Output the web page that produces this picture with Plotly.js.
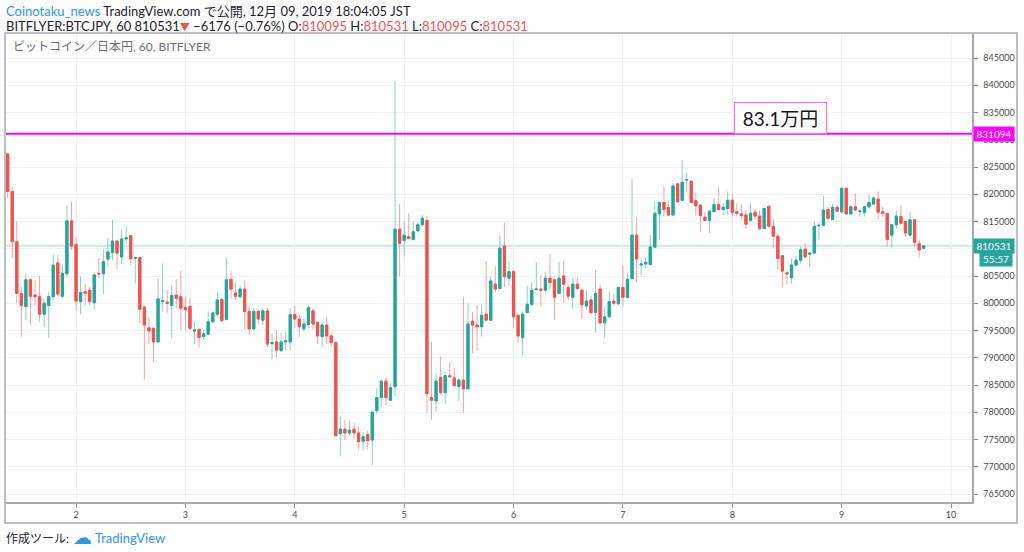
<!DOCTYPE html>
<html><head><meta charset="utf-8">
<script src="https://cdn.plot.ly/plotly-3.0.1.min.js"></script>
<style>html,body{margin:0;padding:0;background:#fff;}#chart{width:1024px;height:552px;}</style>
</head><body><div id="chart"></div>
<script>
// Hourly BTC/JPY candles, bitFlyer, 60 min, first bar 2019-12-01 09:00 JST
const firstBar = Date.UTC(2019, 11, 1, 9);
const open = [827400,820500,811300,801800,799400,804300,801500,801200,798000,799600,801200,807400,801300,805400,815100,810800,800300,802100,802400,800100,
805500,805400,808100,809300,811400,808500,811800,812400,808200,808400,799300,795500,795400,792900,800300,800200,799600,801500,801200,799200,
799400,794900,795200,793900,794300,796600,798000,800700,797000,804400,801900,801200,802600,798500,795300,798500,796900,798600,792600,792900,
791300,792900,792900,797900,797100,795300,796100,798600,796500,793900,796000,794000,792800,776100,776900,776200,776900,776200,774700,775900,
774900,780300,782700,785700,782200,784700,813600,811500,812200,811700,813300,814400,815200,782700,782100,786400,783600,786700,786300,784700,
785900,784300,796700,796000,795700,798000,796900,803500,802700,810500,804600,805800,797800,793700,798300,799800,802500,802600,802400,804600,
804300,801800,805000,802900,801100,803500,802400,799500,800600,798300,802600,796400,797500,800400,799900,802900,801100,804500,812500,807000,
807200,807100,810300,816400,818500,817600,816200,821900,818900,822600,822400,818800,818000,815800,815200,816800,818100,817200,817400,818900,
816800,816400,816200,815200,816700,816000,813700,817800,814100,812300,808700,805600,804700,807000,807900,809900,809000,809200,814200,814300,
817200,815400,817600,816800,821100,816400,817700,816800,816700,817700,818200,819100,816800,816500,812500,814400,815900,815000,812500,815300,
810900,810095];
const high = [827500,821400,815000,803000,805500,804600,804300,805000,800700,802100,809000,808900,807000,818000,818600,812100,804900,803600,803000,805600,
808400,809900,811900,815300,811700,813600,814100,812500,808500,808500,799400,797400,795600,804600,807300,802400,803300,804400,806000,801200,
801000,796600,795400,795100,798500,798500,802000,800900,808400,805900,803800,803200,804200,799500,799100,798800,799100,799200,794500,795100,
794500,794800,799100,799500,797900,797200,799500,799100,796600,796300,797400,794800,792900,779200,778600,778400,778000,777400,776400,776600,
780300,784400,785900,786500,785300,840800,818200,815000,816500,815000,814800,816200,816000,792900,787100,790200,787400,789200,788100,786200,
801200,800000,798400,799700,799700,807700,804900,806800,812500,814800,807600,806100,797800,798500,803200,803800,807600,805200,805800,809000,
804600,807600,807600,803400,804600,804600,802700,802400,801300,806100,803400,799400,802100,801800,803000,806900,805500,822900,815800,808200,
808400,812500,818600,818500,821500,818900,822000,822000,826300,824000,822400,820200,818000,816800,817100,819400,821400,818300,820500,820000,
818300,818200,817100,818300,817300,817100,817400,817800,815500,812800,808700,805800,808200,808700,810400,811000,809300,815000,814800,819700,
817800,818200,818000,821100,821100,818000,820200,817400,817800,819900,819600,820500,817700,816500,814500,817000,818000,815000,816800,815300,
811700,810531];
const low = [819300,808200,800000,793900,796900,796000,799500,796600,795600,793700,800600,801200,800900,804900,809800,798600,798000,799500,799700,798900,
804600,801700,806700,807900,806300,807200,810900,807000,803600,796300,786000,792600,789300,792800,798500,798200,793600,799100,795100,795100,
795000,792500,791900,793300,794200,796400,797500,796600,797000,800800,800600,800900,795300,794200,795000,796200,796000,792000,789700,790100,
791100,791400,791400,795400,793800,794800,795400,795200,792500,791900,792500,792000,775500,771900,774900,775800,775200,773200,773000,773200,
770300,779800,781000,781300,782100,782900,804900,808600,811900,811600,813100,814200,779900,778600,780100,783200,781600,786400,784700,782100,
779900,784100,790800,791300,793900,796800,796800,802100,802600,803000,803200,795400,792800,790500,798100,799500,802400,799500,802100,802400,
797000,801700,800100,800600,799000,802400,797200,798800,797900,794600,796200,793600,797500,799500,799700,799400,800900,804500,803900,805200,
806400,807000,810100,811600,815900,816000,816100,818600,818900,820300,818500,816100,813100,815200,812900,816800,817000,816200,816200,815900,
816000,815500,813700,815000,815300,813300,813700,813900,810100,806100,803000,803400,803600,807000,807300,808500,806700,809200,811700,814100,
815200,815200,816800,816400,816200,816100,817000,815900,815900,817400,818000,815400,815900,810400,810300,813700,814400,812300,812300,810400,
808400,810095];
const close = [820500,811300,801800,799600,804300,801300,801200,798000,800000,801200,807000,801700,805500,815100,810500,800400,802000,801800,800300,805200,
805400,807600,809400,811400,809200,811800,812000,808200,808400,798900,796000,794900,792900,800800,800500,800000,801400,800900,799100,798800,
795400,795100,793700,794400,796600,798200,800600,796800,804300,802600,801300,802600,798500,795300,798500,797100,798600,792500,792800,791400,
792900,793100,797900,797100,795700,796200,799200,796200,794000,796000,794000,792800,775700,776900,776200,776700,776200,774600,775500,774800,
780000,782700,785700,782700,784500,813600,811000,812500,811900,813100,814400,815600,783400,782200,785700,783600,786700,786500,784900,785900,
784300,796200,796000,795700,797800,796900,804100,802600,810100,804900,805800,797500,794000,798000,799800,802400,802600,802400,804600,803800,
801100,804600,803500,801300,803500,802700,799700,800400,798300,801800,796400,797500,800300,800000,802900,801100,804400,812500,808100,807200,
807500,810300,816500,818500,817200,816200,821500,818600,822200,822700,818500,817900,816100,815200,816900,818100,817200,817600,818900,816700,
816500,816100,814500,816500,816000,813700,817400,814100,812300,808200,805900,805400,807000,807900,809800,808500,809200,814100,814300,817100,
815600,817600,816900,821100,816400,817700,817100,816900,817700,818500,819300,816700,816500,811700,814400,816000,814700,812900,815300,811200,
809800,810531];
const dayTicks = ['2019-12-02','2019-12-03','2019-12-04','2019-12-05','2019-12-06','2019-12-07','2019-12-08','2019-12-09','2019-12-10'];
const dayLabels = ['2','3','4','5','6','7','8','9','10'];
const priceTicks = [765000,770000,775000,780000,785000,790000,795000,800000,805000,810000,815000,820000,825000,830000,835000,840000,845000];
// 810000 sits behind the last-price tag in the reference, so its label is not shown
const priceLabels = ['765000','770000','775000','780000','785000','790000','795000','800000','805000','','815000','820000','825000','830000','835000','840000','845000'];
const markedLevel = 831094;
const markedLabel = '83.1万円';
const lastPrice = 810531;
const countdown = '55:57';

const times = open.map((_, i) => new Date(firstBar + i * 3600000).toISOString().slice(0, 16).replace('T', ' '));
const bodyHigh = open.map((o, i) => Math.max(o, close[i]));
const bodyLow = open.map((o, i) => Math.min(o, close[i]));

const UP = '#26a69a', DOWN = '#ef5350';
const W = 1024, H = 552, L = 6, R = 972, T = 33, B = 502;
const px = x => (x - L) / (R - L);
const py = y => (B - y) / (B - T);
const FONT = "Lato, 'Noto Sans CJK JP', sans-serif";
const FRAME = '#a7aab2';

const wicks = {
  type: 'candlestick', x: times, open: open, high: high, low: low, close: close,
  increasing: {line: {color: 'rgba(38,166,154,0.55)', width: 1}, fillcolor: 'rgba(38,166,154,0.55)'},
  decreasing: {line: {color: 'rgba(239,83,80,0.55)', width: 1}, fillcolor: 'rgba(239,83,80,0.55)'},
  whiskerwidth: 0, hoverinfo: 'skip', showlegend: false
};
const bodies = {
  type: 'candlestick', x: times, open: open, high: bodyHigh, low: bodyLow, close: close,
  increasing: {line: {color: UP, width: 1}, fillcolor: UP},
  decreasing: {line: {color: DOWN, width: 1}, fillcolor: DOWN},
  whiskerwidth: 0, hoverinfo: 'skip', showlegend: false
};

const layout = {
  width: W, height: H,
  margin: {l: L, r: W - R, t: T, b: H - B, pad: 0},
  paper_bgcolor: '#ffffff', plot_bgcolor: '#ffffff',
  showlegend: false, dragmode: false,
  font: {family: FONT, size: 9, color: '#4a4a4a'},
  xaxis: {
    type: 'date', range: ['2019-12-01 08:38', '2019-12-10 04:36'],
    tickmode: 'array', tickvals: dayTicks, ticktext: dayLabels,
    showgrid: true, gridcolor: '#eef1f7', gridwidth: 1, zeroline: false,
    ticks: 'outside', ticklen: 4, tickcolor: '#8a8d96', tickwidth: 1,
    showline: true, linecolor: FRAME, linewidth: 1.5,
    tickfont: {family: FONT, size: 9, color: '#4a4a4a'},
    rangeslider: {visible: false}, fixedrange: true
  },
  yaxis: {
    side: 'right', range: [763532, 849587],
    tickmode: 'array', tickvals: priceTicks, ticktext: priceLabels,
    showgrid: true, gridcolor: '#eef1f7', gridwidth: 1, zeroline: false,
    ticks: 'outside', ticklen: 4, tickcolor: '#8a8d96', tickwidth: 1,
    showline: true, linecolor: FRAME, linewidth: 1.5,
    tickfont: {family: FONT, size: 9, color: '#4a4a4a'},
    ticklabelstandoff: 4, fixedrange: true
  },
  shapes: [
    {type: 'line', xref: 'paper', yref: 'y', x0: 0, x1: 1, y0: lastPrice, y1: lastPrice, line: {color: '#cfe8e5', width: 2}, layer: 'below'},
    {type: 'line', xref: 'paper', yref: 'y', x0: 0, x1: 1, y0: markedLevel, y1: markedLevel, line: {color: '#ff00ff', width: 2}},
    {type: 'rect', xref: 'paper', yref: 'paper', x0: px(5), x1: px(1017), y0: py(523), y1: py(33), line: {color: FRAME, width: 1.5}, fillcolor: 'rgba(0,0,0,0)'}
  ],
  annotations: [
    {xref: 'paper', yref: 'paper', x: px(4), y: py(11), xanchor: 'left', yanchor: 'middle', showarrow: false,
     text: '<span style="color:#2e96e6">Coinotaku_news</span> TradingView.com で公開, 12月 09, 2019 18:04:05 JST',
     font: {family: FONT, size: 13, color: '#1e222d'}},
    {xref: 'paper', yref: 'paper', x: px(4), y: py(25.5), xanchor: 'left', yanchor: 'middle', showarrow: false,
     text: 'BITFLYER:BTCJPY, 60 810531<span style="color:#ef5350;font-size:10px">▼</span> −6176 (−0.76%) O:<span style="color:#ef5350">810095</span> H:<span style="color:#ef5350">810531</span> L:<span style="color:#ef5350">810095</span> C:<span style="color:#ef5350">810531</span>',
     font: {family: FONT, size: 13, color: '#1e222d'}},
    {xref: 'paper', yref: 'paper', x: px(11), y: py(47), xanchor: 'left', yanchor: 'middle', showarrow: false,
     text: 'ビットコイン／日本円, 60, BITFLYER', font: {family: FONT, size: 12, color: '#6a6d78'}},
    {xref: 'paper', yref: 'paper', x: px(780.5), y: py(117.5), xanchor: 'center', yanchor: 'middle', showarrow: false,
     text: markedLabel, font: {family: FONT, size: 19, color: '#131722'},
     bgcolor: '#ffffff', bordercolor: '#ff66ff', borderwidth: 1, width: 89, height: 28},
    {xref: 'paper', yref: 'y', x: px(972.5), y: markedLevel, xanchor: 'left', yanchor: 'middle', showarrow: false,
     text: String(markedLevel), font: {family: FONT, size: 10, color: '#ffffff'}, bgcolor: '#ff00ff', borderpad: 1, width: 38},
    {xref: 'paper', yref: 'y', x: px(972.5), y: lastPrice, xanchor: 'left', yanchor: 'middle', showarrow: false,
     text: String(lastPrice), font: {family: FONT, size: 10, color: '#ffffff'}, bgcolor: UP, borderpad: 1, width: 38},
    {xref: 'paper', yref: 'paper', x: px(1013), y: py(258.5), xanchor: 'right', yanchor: 'middle', showarrow: false,
     text: countdown, font: {family: FONT, size: 10, color: '#ffffff'}, bgcolor: UP, borderpad: 1, width: 30},
    {xref: 'paper', yref: 'paper', x: px(4), y: py(538), xanchor: 'left', yanchor: 'middle', showarrow: false,
     text: '作成ツール:', font: {family: FONT, size: 12, color: '#1e222d'}},
    {xref: 'paper', yref: 'paper', x: px(71), y: py(537), xanchor: 'left', yanchor: 'middle', showarrow: false,
     text: '☁', font: {family: "'DejaVu Sans', sans-serif", size: 19, color: '#2e96e6'}},
    {xref: 'paper', yref: 'paper', x: px(93), y: py(538), xanchor: 'left', yanchor: 'middle', showarrow: false,
     text: 'TradingView', font: {family: FONT, size: 13, color: '#2e96e6'}}
  ]
};

Plotly.newPlot('chart', [wicks, bodies], layout, {staticPlot: true, displayModeBar: false});
</script></body></html>
